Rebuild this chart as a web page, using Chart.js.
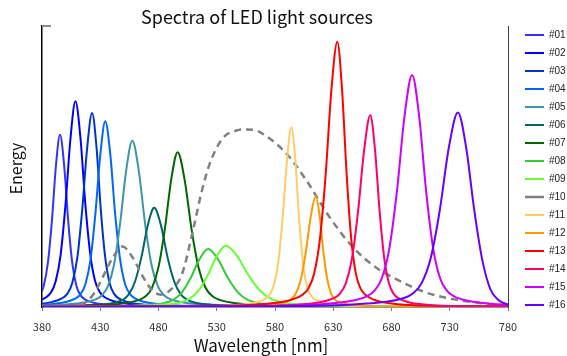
<!DOCTYPE html>
<html><head><meta charset="utf-8">
<script src="https://cdn.jsdelivr.net/npm/chart.js@4.4.1/dist/chart.umd.min.js"></script>
<style>html,body{margin:0;padding:0;background:#fff;}canvas{display:block;}</style>
</head><body>
<canvas id="c" width="567" height="356"></canvas>
<script>
const chartTitle = 'Spectra of LED light sources';
const xTitle = 'Wavelength [nm]';
const yTitle = 'Energy';
const xTickValues = [380, 430, 480, 530, 580, 630, 680, 730, 780];
const seriesNames = ['#01','#02','#03','#04','#05','#06','#07','#08','#09','#10','#11','#12','#13','#14','#15','#16'];
const seriesColors = ['#3333FF','#0000FF','#0033CC','#0066FF','#3A97A8','#006666','#006600','#33CC33','#66FF33','#808080','#FFCC66','#FF9900','#FF0000','#FF0066','#CC00FF','#6600FF'];

const wl01 = [300, 325.5, 353.5, 367.5, 374.5, 378, 381.5, 385, 388.5, 392, 395.5, 399, 402.5, 406, 409.5, 413, 416.5, 423.5, 437.5, 465.5, 900];
const en01 = [0, 0.28, 0.75, 1.62, 2.82, 4.23, 7.6, 15.57, 30.65, 50.45, 61.3, 50.45, 30.65, 15.57, 7.6, 4.23, 2.82, 1.62, 0.75, 0.28, 0];
const wl02 = [300, 323.7, 357.7, 374.7, 383.2, 387.5, 391.7, 396, 400.2, 404.5, 408.7, 413, 417.2, 421.5, 425.7, 430, 434.2, 442.7, 459.7, 493.7, 900];
const en02 = [0, 0.33, 0.89, 1.94, 3.37, 5.05, 9.08, 18.59, 36.6, 60.24, 73.2, 60.24, 36.6, 18.59, 9.08, 5.05, 3.37, 1.94, 0.89, 0.33, 0];
const wl03 = [300, 338, 372, 389, 397.5, 401.8, 406, 410.3, 414.5, 418.8, 423, 426.8, 430.5, 434.3, 438, 441.8, 445.5, 453, 468, 498, 900];
const en03 = [0, 0.31, 0.84, 1.83, 3.17, 4.76, 8.56, 17.53, 34.5, 56.79, 69, 56.79, 34.5, 17.53, 8.56, 4.76, 3.17, 1.83, 0.84, 0.31, 0];
const wl04 = [300, 349.3, 383.3, 400.3, 408.8, 413.1, 417.3, 421.6, 425.8, 430.1, 434.3, 438.6, 442.8, 447.1, 451.3, 455.6, 459.8, 468.3, 485.3, 519.3, 900];
const en04 = [0, 0.3, 0.81, 1.75, 3.04, 4.56, 8.2, 16.79, 33.05, 54.4, 66.1, 54.4, 33.05, 16.79, 8.2, 4.56, 3.04, 1.75, 0.81, 0.3, 0];
const wl05 = [300, 352.5, 394.5, 415.5, 426, 431.3, 436.5, 441.8, 447, 452.3, 457.5, 463, 468.5, 474, 479.5, 485, 490.5, 501.5, 523.5, 567.5, 900];
const en05 = [0, 0.27, 0.72, 1.57, 2.72, 4.08, 7.34, 15.04, 29.6, 48.72, 59.2, 48.72, 29.6, 15.04, 7.34, 4.08, 2.72, 1.57, 0.72, 0.27, 0];
const wl06 = [300, 366.3, 410.3, 432.3, 443.3, 448.8, 454.3, 459.8, 465.3, 470.8, 476.3, 482.1, 487.8, 493.6, 499.3, 505.1, 510.8, 522.3, 545.3, 591.3, 900];
const en06 = [0, 0.16, 0.43, 0.94, 1.62, 2.44, 4.38, 8.97, 17.65, 29.05, 35.3, 29.05, 17.65, 8.97, 4.38, 2.44, 1.62, 0.94, 0.43, 0.16, 0];
const wl07 = [300, 386.4, 430.4, 452.4, 463.4, 468.9, 474.4, 479.9, 485.4, 490.9, 496.4, 502.4, 508.4, 514.4, 520.4, 526.4, 532.4, 544.4, 568.4, 616.4, 900];
const en07 = [0, 0.25, 0.67, 1.46, 2.53, 3.8, 6.83, 14.0, 27.55, 45.35, 55.1, 45.35, 27.55, 14.0, 6.83, 3.8, 2.53, 1.46, 0.67, 0.25, 0];
const wl08 = [300, 372.6, 432.6, 462.6, 477.6, 485.1, 492.6, 500.1, 507.6, 515.1, 522.6, 531.1, 539.6, 548.1, 556.6, 565.1, 573.6, 590.6, 624.6, 692.6, 900];
const en08 = [0, 0.09, 0.25, 0.55, 0.95, 1.42, 2.55, 5.23, 10.3, 16.95, 20.6, 16.95, 10.3, 5.23, 2.55, 1.42, 0.95, 0.55, 0.25, 0.09, 0];
const wl09 = [300, 377.8, 441.8, 473.8, 489.8, 497.8, 505.8, 513.8, 521.8, 529.8, 537.8, 547.8, 557.8, 567.8, 577.8, 587.8, 597.8, 617.8, 657.8, 737.8, 900];
const en09 = [0, 0.1, 0.27, 0.58, 1.0, 1.5, 2.7, 5.54, 10.9, 17.94, 21.8, 17.94, 10.9, 5.54, 2.7, 1.5, 1.0, 0.58, 0.27, 0.1, 0];
const wl10 = [300, 380, 405, 415, 425, 432, 440, 449, 458, 467, 475, 482, 490, 500, 510, 517, 524, 535, 547, 555, 562, 570, 590, 607, 627, 647, 667, 687, 710, 733, 761, 780, 900];
const en10 = [0, 0, 0.1, 1.0, 5.0, 10.5, 17.0, 21.5, 17.5, 10.5, 5.8, 4.4, 6.0, 11.5, 28.0, 41.0, 51.0, 60.0, 62.8, 63.2, 63.0, 61.5, 54.5, 45.0, 31.9, 21.2, 14.0, 9.3, 5.1, 2.8, 1.2, 0.6, 0];
const wl11 = [300, 519.1, 549.1, 564.1, 571.6, 575.4, 579.1, 582.9, 586.6, 590.4, 594.1, 597.4, 600.6, 603.9, 607.1, 610.4, 613.6, 620.1, 633.1, 659.1, 900];
const en11 = [0, 0.29, 0.78, 1.7, 2.94, 4.42, 7.94, 16.26, 32, 52.67, 64, 52.67, 32, 16.26, 7.94, 4.42, 2.94, 1.7, 0.78, 0.29, 0];
const wl12 = [300, 530, 564, 581, 589.5, 593.8, 598, 602.3, 606.5, 610.8, 615, 618.3, 621.5, 624.8, 628, 631.3, 634.5, 641, 654, 680, 900];
const en12 = [0, 0.18, 0.48, 1.04, 1.81, 2.72, 4.89, 10.01, 19.7, 32.43, 39.4, 32.43, 19.7, 10.01, 4.89, 2.72, 1.81, 1.04, 0.48, 0.18, 0];
const wl13 = [300, 533.5, 573.5, 593.5, 603.5, 608.5, 613.5, 618.5, 623.5, 628.5, 633.5, 637.5, 641.5, 645.5, 649.5, 653.5, 657.5, 665.5, 681.5, 713.5, 900];
const en13 = [0, 0.42, 1.15, 2.5, 4.34, 6.51, 11.71, 23.98, 47.2, 77.69, 94.4, 77.69, 47.2, 23.98, 11.71, 6.51, 4.34, 2.5, 1.15, 0.42, 0];
const wl14 = [300, 556.8, 598.8, 619.8, 630.3, 635.6, 640.8, 646.1, 651.3, 656.6, 661.8, 665.8, 669.8, 673.8, 677.8, 681.8, 685.8, 693.8, 709.8, 741.8, 900];
const en14 = [0, 0.31, 0.83, 1.81, 3.14, 4.71, 8.46, 17.32, 34.1, 56.13, 68.2, 56.13, 34.1, 17.32, 8.46, 4.71, 3.14, 1.81, 0.83, 0.31, 0];
const wl15 = [300, 567.7, 619.7, 645.7, 658.7, 665.2, 671.7, 678.2, 684.7, 691.2, 697.7, 703.7, 709.7, 715.7, 721.7, 727.7, 733.7, 745.7, 769.7, 817.7, 900];
const en15 = [0, 0.37, 1.01, 2.19, 3.8, 5.7, 10.24, 20.98, 41.3, 67.98, 82.6, 67.98, 41.3, 20.98, 10.24, 5.7, 3.8, 2.19, 1.01, 0.37, 0];
const wl16 = [300, 582, 644, 675, 690.5, 698.3, 706, 713.8, 721.5, 729.3, 737, 744, 751, 758, 765, 772, 779, 793, 821, 877, 900];
const en16 = [0, 0.31, 0.84, 1.83, 3.18, 4.77, 8.58, 17.58, 34.6, 56.95, 69.2, 56.95, 34.6, 16.6, 6.2, 2.4, 1.0, 0.4, 0.15, 0.05, 0];

const wavelengths = [wl01, wl02, wl03, wl04, wl05, wl06, wl07, wl08, wl09, wl10, wl11, wl12, wl13, wl14, wl15, wl16];
const energies = [en01, en02, en03, en04, en05, en06, en07, en08, en09, en10, en11, en12, en13, en14, en15, en16];

const FONT = '"Noto Sans CJK JP", "Noto Sans", sans-serif';
Chart.defaults.font.family = FONT;

const datasets = seriesNames.map((name, i) => ({
  label: name,
  data: wavelengths[i].map((w, j) => ({x: w, y: energies[i][j]})),
  borderColor: seriesColors[i],
  backgroundColor: seriesColors[i],
  borderWidth: name === '#10' ? 2.5 : 2,
  borderDash: name === '#10' ? [7, 5] : [],
  pointRadius: 0,
  cubicInterpolationMode: 'monotone',
  fill: false,
  order: seriesNames.length - i
}));

const textPlugin = {
  id: 'texts',
  afterDraw(chart) {
    const {ctx, chartArea: a} = chart;
    ctx.save();
    ctx.strokeStyle = '#8c8c8c';
    ctx.lineWidth = 2;
    ctx.beginPath();
    ctx.moveTo(a.left, a.top);
    ctx.lineTo(a.left + 9, a.top);
    ctx.stroke();
    ctx.fillStyle = '#111';
    ctx.textAlign = 'center';
    ctx.textBaseline = 'middle';
    ctx.font = '18px ' + FONT;
    ctx.fillText(chartTitle, a.left + 215, 17);
    ctx.font = '17px ' + FONT;
    ctx.fillText(xTitle, a.left + 219, 346);
    ctx.translate(16, (a.top + a.bottom) / 2 + 2);
    ctx.rotate(-Math.PI / 2);
    ctx.font = '16px ' + FONT;
    ctx.fillText(yTitle, 0, 0);
    ctx.restore();
  }
};

new Chart(document.getElementById('c'), {
  type: 'line',
  data: {datasets},
  plugins: [textPlugin],
  options: {
    responsive: false,
    animation: false,
    devicePixelRatio: 1,
    layout: {padding: {left: 42, top: 0, right: 0, bottom: 13.8}},
    plugins: {
      title: {display: true, text: '', padding: 0, font: {size: 26, lineHeight: 1}},
      tooltip: {enabled: false},
      legend: {
        position: 'right',
        align: 'start',
        maxWidth: 50,
        title: {display: true, text: '', padding: 5, font: {size: 12, lineHeight: 1}},
        labels: {
          usePointStyle: true,
          pointStyle: 'line',
          pointStyleWidth: 19,
          boxHeight: 4,
          padding: 8,
          color: '#222',
          font: {size: 10, family: '"Liberation Sans", Arial, sans-serif'},
          sort: (a, b) => a.datasetIndex - b.datasetIndex
        }
      }
    },
    scales: {
      x: {
        type: 'linear',
        min: 380,
        max: 780,
        afterBuildTicks: s => { s.ticks = xTickValues.map(v => ({value: v})); },
        ticks: {color: '#333', padding: 9, font: {size: 11}},
        grid: {display: true, drawOnChartArea: false, drawTicks: true, tickLength: 4, color: '#777'},
        border: {display: true, color: '#999', width: 1}
      },
      y: {
        type: 'linear',
        position: 'left',
        min: 0,
        max: 100,
        ticks: {display: false},
        grid: {display: true, drawOnChartArea: false, drawTicks: false},
        border: {display: true, color: '#000', width: 1.5}
      },
      y2: {
        type: 'linear',
        position: 'right',
        display: true,
        min: 0,
        max: 100,
        ticks: {display: false},
        grid: {display: true, drawOnChartArea: false, drawTicks: true, tickLength: 9, color: 'rgba(0,0,0,0)'},
        border: {display: true, color: '#404040', width: 1}
      }
    }
  }
});
</script>
</body></html>
